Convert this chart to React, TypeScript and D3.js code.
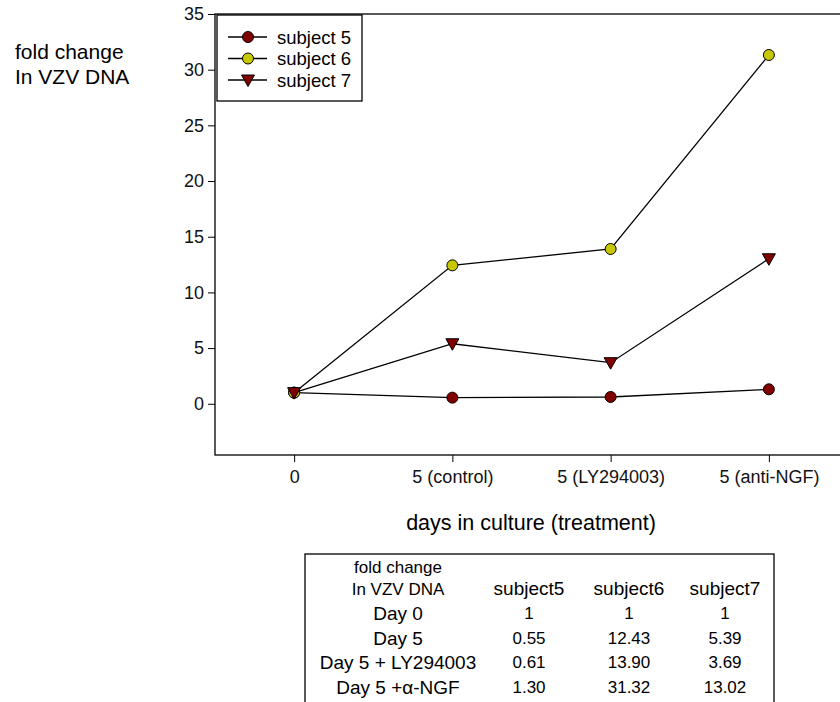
import React, { useEffect, useRef } from 'react';
import * as d3 from 'd3';

const width = 840;
const height = 702;
const margin = { top: 14, left: 215, bottom: 247, right: -8 };
const iwidth = width - margin.left - margin.right;
const iheight = height - margin.top - margin.bottom;

const categories = ['0', '5 (control)', '5 (LY294003)', '5 (anti-NGF)'];
const subject5 = [1, 0.55, 0.61, 1.3];
const subject6 = [1, 12.43, 13.9, 31.32];
const subject7 = [1, 5.39, 3.69, 13.02];
const yTicks = [0, 5, 10, 15, 20, 25, 30, 35];

const series = [
  { name: 'subject 5', values: subject5, fill: '#800000', shape: 'circle' },
  { name: 'subject 6', values: subject6, fill: '#c8c800', shape: 'circle' },
  { name: 'subject 7', values: subject7, fill: '#800000', shape: 'triangle' },
];

const tableHeaders = ['subject5', 'subject6', 'subject7'];
const tableRows = ['Day 0', 'Day 5', 'Day 5 + LY294003', 'Day 5 +\u03b1-NGF'];
const tableValues = [
  ['1', '1', '1'],
  ['0.55', '12.43', '5.39'],
  ['0.61', '13.90', '3.69'],
  ['1.30', '31.32', '13.02'],
];

const font = 'Liberation Sans, Arial, Helvetica, sans-serif';

function marker(g: any, shape: string, fill: string, cx: number, cy: number) {
  if (shape === 'circle') {
    g.append('circle').attr('cx', cx).attr('cy', cy).attr('r', 5.5)
      .attr('fill', fill).attr('stroke', '#000').attr('stroke-width', 1);
  } else {
    g.append('path')
      .attr('d', `M${cx - 6.5},${cy - 5} L${cx + 6.5},${cy - 5} L${cx},${cy + 6.5} Z`)
      .attr('fill', fill).attr('stroke', '#000').attr('stroke-width', 1);
  }
}

const App = () => {
  const ref = useRef<SVGSVGElement>(null);

  useEffect(() => {
    const svg = d3.select(ref.current);
    svg.selectAll('*').remove();
    svg.style('font-family', font);

    const x = d3.scalePoint().domain(categories).range([margin.left, margin.left + iwidth]).padding(0.5);
    const y = d3.scaleLinear().domain([-4.6, 35]).range([margin.top + iheight, margin.top]);

    // frame
    svg.append('rect')
      .attr('x', margin.left).attr('y', margin.top)
      .attr('width', iwidth).attr('height', iheight)
      .attr('fill', 'none').attr('stroke', '#000').attr('stroke-width', 1.3);

    const ya = svg.append('g').attr('transform', `translate(${margin.left},0)`)
      .call(d3.axisLeft(y).tickValues(yTicks).tickSize(7).tickPadding(4).tickSizeOuter(0));
    ya.select('.domain').remove();
    ya.selectAll('text').style('font-size', '18px').style('font-family', font).attr('fill', '#111');

    const xa = svg.append('g').attr('transform', `translate(0,${margin.top + iheight})`)
      .call(d3.axisBottom(x).tickSize(7).tickPadding(8).tickSizeOuter(0));
    xa.select('.domain').remove();
    xa.selectAll('text').style('font-size', '18px').style('font-family', font).attr('fill', '#111');

    // axis titles
    svg.append('text').attr('x', 531).attr('y', 530).attr('text-anchor', 'middle')
      .style('font-size', '21.5px').text('days in culture (treatment)');
    svg.append('text').attr('x', 15).attr('y', 59).style('font-size', '21px').text('fold change');
    svg.append('text').attr('x', 15).attr('y', 84).style('font-size', '21px').text('In VZV DNA');

    const line = d3.line<number>().x((d, i) => x(categories[i]) as number).y(d => y(d));

    series.forEach(s => {
      const g = svg.append('g');
      g.append('path').attr('d', line(s.values)).attr('fill', 'none')
        .attr('stroke', '#000').attr('stroke-width', 1.3);
      s.values.forEach((v, i) => marker(g, s.shape, s.fill, x(categories[i]) as number, y(v)));
    });

    // legend
    const lg = svg.append('g');
    lg.append('rect').attr('x', 217).attr('y', 15).attr('width', 145).attr('height', 86)
      .attr('fill', '#fff').attr('stroke', '#000').attr('stroke-width', 1.3);
    series.forEach((s, i) => {
      const cy = 37 + i * 21.5;
      lg.append('line').attr('x1', 228).attr('x2', 267).attr('y1', cy).attr('y2', cy)
        .attr('stroke', '#000').attr('stroke-width', 1.3);
      marker(lg, s.shape, s.fill, 248, cy);
      lg.append('text').attr('x', 277).attr('y', cy + 6.5).style('font-size', '18.5px').text(s.name);
    });

    // table
    const tg = svg.append('g');
    tg.append('rect').attr('x', 305).attr('y', 554).attr('width', 469).attr('height', 170)
      .attr('fill', 'none').attr('stroke', '#000').attr('stroke-width', 1.3);
    const labelX = 398;
    const colX = [529, 629, 725];
    tg.append('text').attr('x', labelX).attr('y', 573).attr('text-anchor', 'middle')
      .style('font-size', '17px').text('fold change');
    tg.append('text').attr('x', labelX).attr('y', 595).attr('text-anchor', 'middle')
      .style('font-size', '17px').text('In VZV DNA');
    tableHeaders.forEach((h, j) => {
      tg.append('text').attr('x', colX[j]).attr('y', 595).attr('text-anchor', 'middle')
        .style('font-size', '19px').text(h);
    });
    tableRows.forEach((r, i) => {
      const by = 620 + i * 24.5;
      tg.append('text').attr('x', labelX).attr('y', by).attr('text-anchor', 'middle')
        .style('font-size', '19px').text(r);
      tableValues[i].forEach((v, j) => {
        tg.append('text').attr('x', colX[j]).attr('y', by - 1).attr('text-anchor', 'middle')
          .style('font-size', '17px').text(v);
      });
    });
  }, []);

  return (
    <svg ref={ref} width={width} height={height}
      style={{ position: 'absolute', left: 0, top: 0, background: '#fff' }} />
  );
};

export default App;
